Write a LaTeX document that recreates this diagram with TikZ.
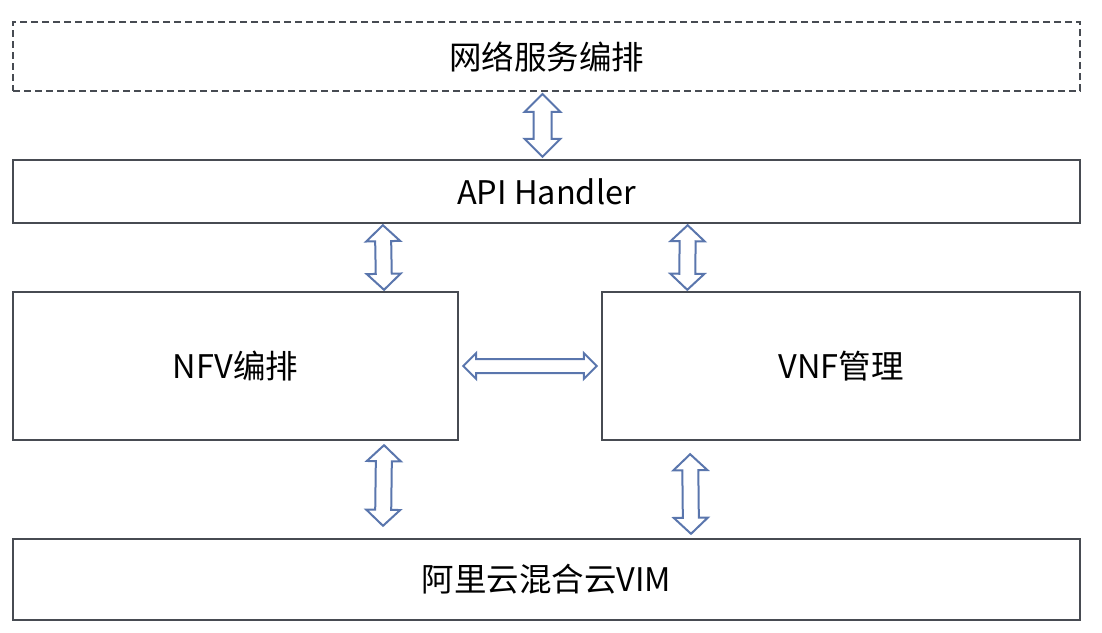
\documentclass[tikz,border=0pt]{standalone}
\usepackage{fontspec}
\setmainfont{Noto Sans CJK SC}
\usetikzlibrary{calc}

\definecolor{boxgray}{HTML}{474B52}
\definecolor{arrowblue}{HTML}{5A76AD}

% hollow double arrow between two points: #1 #2 ends, #3 head half width, #4 shaft half width, #5 head length
\newcommand\fatarrow[5]{%
  \draw[fatline] let \p1=($(#2)-(#1)$), \n1={veclen(\x1,\y1)}, \n2={atan2(\y1,\x1)} in
    [shift={(#1)}, rotate=\n2] (0,0) -- (#5,#3) -- (#5,#4) -- (\n1-#5,#4) -- (\n1-#5,#3) -- (\n1,0)
    -- (\n1-#5,-#3) -- (\n1-#5,-#4) -- (#5,-#4) -- (#5,-#3) -- cycle;}

\begin{document}
\begin{tikzpicture}[x=1pt, y=-1pt,
    box/.style={draw=boxgray, line width=2.4pt, rectangle, inner sep=0pt, font=\fontsize{32.5}{36}\selectfont},
    dashbox/.style={box, dash pattern=on 7pt off 4pt, line width=1.9pt},
    fatline/.style={draw=arrowblue, fill=white, line width=2pt, line join=miter}]
  \useasboundingbox (0,0) rectangle (1102,632);

  \node[dashbox, minimum width=1067, minimum height=69] (net) at (546.5,56.5) {网络服务编排};
  \node[box, minimum width=1067, minimum height=63] (api) at (546.5,191.5) {API Handler};
  \node[box, minimum width=445, minimum height=148] (nfv) at (235.5,366) {NFV编排};
  \node[box, minimum width=478, minimum height=148] (vnf) at (841,366) {VNF管理};
  \node[box, minimum width=1067, minimum height=81] (vim) at (546.5,579.5) {阿里云混合云VIM};

  % connectors
  \coordinate (c1) at ($(net.south)+(-4,2)$);
  \coordinate (c2) at ($(api.north)+(-4,-2)$);
  \coordinate (c3) at ($(api.south west)!0.347!(api.south east)+(0,1)$);
  \coordinate (c4) at ($(nfv.north west)!0.832!(nfv.north east)+(0,-1)$);
  \coordinate (c5) at ($(api.south west)!0.632!(api.south east)+(0,1)$);
  \coordinate (c6) at ($(vnf.north west)!0.180!(vnf.north east)+(0,-1)$);
  \coordinate (c7) at ($(nfv.south west)!0.832!(nfv.south east)+(0,4)$);
  \coordinate (c8) at ($(vim.north)+(-163.5,-12)$);
  \coordinate (c9) at ($(vnf.south west)!0.186!(vnf.south east)+(0,13)$);
  \coordinate (c10) at ($(vim.north)+(144.5,-4)$);

  \fatarrow{c1}{c2}{18}{9}{18}
  \fatarrow{c3}{c4}{17}{8}{16}
  \fatarrow{c5}{c6}{17}{8}{16}
  \fatarrow{$(nfv.east)+(4,0)$}{$(vnf.west)+(-4,0)$}{13}{7}{13}
  \fatarrow{c7}{c8}{17}{8}{16}
  \fatarrow{c9}{c10}{17}{8}{16}
\end{tikzpicture}
\end{document}
